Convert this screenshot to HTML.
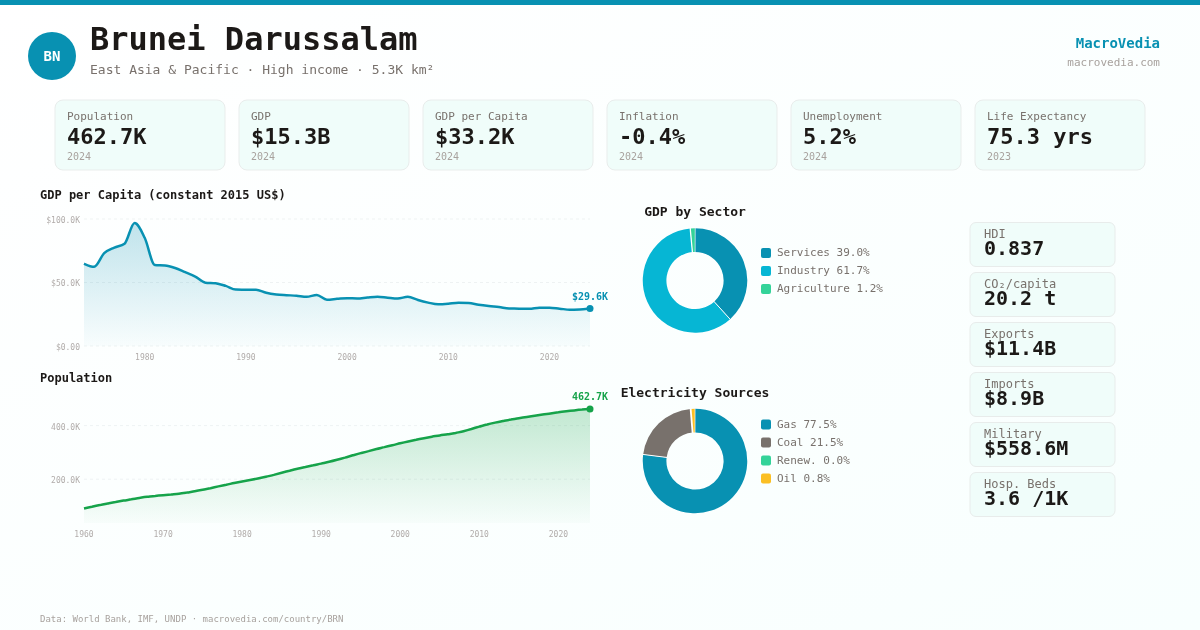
<!DOCTYPE html>
<html lang="en"><head><meta charset="utf-8"><title>Brunei Darussalam - MacroVedia</title>
<style>
html,body{margin:0;padding:0;background:#fff;}
body{width:1200px;height:630px;overflow:hidden;}
svg{display:block;}
text{font-family:"DejaVu Sans Mono", "Liberation Mono", monospace;}
.b{font-weight:bold;}
</style></head><body>
<svg width="1200" height="630" viewBox="0 0 1200 630">
<defs>
<linearGradient id="bg" x1="0" y1="0" x2="1" y2="1"><stop offset="0" stop-color="#ffffff"/><stop offset="1" stop-color="#f8fffe"/></linearGradient>
<linearGradient id="g1" x1="0" y1="0" x2="0" y2="1"><stop offset="0" stop-color="#0891b2" stop-opacity="0.25"/><stop offset="1" stop-color="#0891b2" stop-opacity="0.02"/></linearGradient>
<linearGradient id="g2" x1="0" y1="0" x2="0" y2="1"><stop offset="0" stop-color="#16a34a" stop-opacity="0.25"/><stop offset="1" stop-color="#16a34a" stop-opacity="0.02"/></linearGradient>
</defs>
<rect width="1200" height="630" fill="url(#bg)"/>
<rect width="1200" height="5" fill="#0891b2"/>
<circle cx="52" cy="56" r="24" fill="#0891b2"/>
<text x="52" y="61" text-anchor="middle" font-size="14" class="b" fill="#ffffff">BN</text>
<text x="90" y="50.2" font-size="32" class="b" fill="#1c1917">Brunei Darussalam</text>
<text x="90" y="74" font-size="13" fill="#78716c">East Asia &amp; Pacific · High income · 5.3K km²</text>
<text x="1160" y="48" text-anchor="end" font-size="14" class="b" fill="#0891b2">MacroVedia</text>
<text x="1160" y="66" text-anchor="end" font-size="11" fill="#a8a29e">macrovedia.com</text>

<rect x="55" y="100" width="170" height="70" rx="8" fill="#f0fdfa" stroke="#e9edec" stroke-width="1"/>
<text x="67" y="120" font-size="11" fill="#78716c">Population</text>
<text x="67" y="144" font-size="22" class="b" fill="#1c1917">462.7K</text>
<text x="67" y="160" font-size="10" fill="#a8a29e">2024</text>
<rect x="239" y="100" width="170" height="70" rx="8" fill="#f0fdfa" stroke="#e9edec" stroke-width="1"/>
<text x="251" y="120" font-size="11" fill="#78716c">GDP</text>
<text x="251" y="144" font-size="22" class="b" fill="#1c1917">$15.3B</text>
<text x="251" y="160" font-size="10" fill="#a8a29e">2024</text>
<rect x="423" y="100" width="170" height="70" rx="8" fill="#f0fdfa" stroke="#e9edec" stroke-width="1"/>
<text x="435" y="120" font-size="11" fill="#78716c">GDP per Capita</text>
<text x="435" y="144" font-size="22" class="b" fill="#1c1917">$33.2K</text>
<text x="435" y="160" font-size="10" fill="#a8a29e">2024</text>
<rect x="607" y="100" width="170" height="70" rx="8" fill="#f0fdfa" stroke="#e9edec" stroke-width="1"/>
<text x="619" y="120" font-size="11" fill="#78716c">Inflation</text>
<text x="619" y="144" font-size="22" class="b" fill="#1c1917">-0.4%</text>
<text x="619" y="160" font-size="10" fill="#a8a29e">2024</text>
<rect x="791" y="100" width="170" height="70" rx="8" fill="#f0fdfa" stroke="#e9edec" stroke-width="1"/>
<text x="803" y="120" font-size="11" fill="#78716c">Unemployment</text>
<text x="803" y="144" font-size="22" class="b" fill="#1c1917">5.2%</text>
<text x="803" y="160" font-size="10" fill="#a8a29e">2024</text>
<rect x="975" y="100" width="170" height="70" rx="8" fill="#f0fdfa" stroke="#e9edec" stroke-width="1"/>
<text x="987" y="120" font-size="11" fill="#78716c">Life Expectancy</text>
<text x="987" y="144" font-size="22" class="b" fill="#1c1917">75.3 yrs</text>
<text x="987" y="160" font-size="10" fill="#a8a29e">2023</text>
<text x="40" y="199" font-size="12" class="b" fill="#1c1917">GDP per Capita (constant 2015 US$)</text>
<line x1="84" y1="219" x2="590" y2="219" stroke="#e3e8ea" stroke-width="1" stroke-dasharray="3,3" opacity="0.55"/>
<text x="80" y="222.9" text-anchor="end" font-size="8" fill="#b1acaa">$100.0K</text>
<line x1="84" y1="282.5" x2="590" y2="282.5" stroke="#e3e8ea" stroke-width="1" stroke-dasharray="3,3" opacity="0.55"/>
<text x="80" y="286.4" text-anchor="end" font-size="8" fill="#b1acaa">$50.0K</text>
<line x1="84" y1="346" x2="590" y2="346" stroke="#e3e8ea" stroke-width="1" stroke-dasharray="3,3" opacity="0.55"/>
<text x="80" y="349.9" text-anchor="end" font-size="8" fill="#b1acaa">$0.00</text>
<path d="M84.0,263.7C87.4,265.2 90.7,266.8 94.1,266.8C97.5,266.8 100.9,256.4 104.2,253.2C107.6,250.0 111.0,249.2 114.4,247.6C117.7,246.0 121.1,246.3 124.5,243.7C127.9,241.1 131.2,223.0 134.6,223.0C138.0,223.0 141.3,230.8 144.7,237.8C148.1,244.8 151.5,264.7 154.8,265.0C158.2,265.3 161.6,265.2 165.0,265.5C168.3,265.8 171.7,266.9 175.1,268.0C178.5,269.1 181.8,270.8 185.2,272.2C188.6,273.6 191.9,274.9 195.3,276.7C198.7,278.4 202.1,282.3 205.4,282.7C208.8,283.1 212.2,282.9 215.6,283.3C218.9,283.7 222.3,284.9 225.7,285.9C229.1,286.9 232.4,289.4 235.8,289.5C239.2,289.6 242.5,289.7 245.9,289.7C249.3,289.7 252.7,289.7 256.0,289.7C259.4,289.7 262.8,292.0 266.2,292.8C269.5,293.6 272.9,294.1 276.3,294.5C279.7,294.9 283.0,295.0 286.4,295.2C289.8,295.4 293.1,295.4 296.5,295.7C299.9,296.0 303.3,296.8 306.6,296.8C310.0,296.8 313.4,295.0 316.8,295.0C320.1,295.0 323.5,299.7 326.9,299.7C330.3,299.7 333.6,299.1 337.0,298.8C340.4,298.6 343.7,298.2 347.1,298.2C350.5,298.2 353.9,298.5 357.2,298.5C360.6,298.5 364.0,297.8 367.4,297.5C370.7,297.2 374.1,296.7 377.5,296.7C380.9,296.7 384.2,297.4 387.6,297.7C391.0,298.0 394.3,298.5 397.7,298.5C401.1,298.5 404.5,296.8 407.8,296.8C411.2,296.8 414.6,299.0 418.0,300.0C421.3,301.0 424.7,301.9 428.1,302.6C431.5,303.3 434.8,304.3 438.2,304.3C441.6,304.3 444.9,304.0 448.3,303.7C451.7,303.4 455.1,302.7 458.4,302.7C461.8,302.7 465.2,302.8 468.6,303.0C471.9,303.2 475.3,304.2 478.7,304.7C482.1,305.2 485.4,305.6 488.8,306.0C492.2,306.4 495.5,306.6 498.9,307.0C502.3,307.4 505.7,308.4 509.0,308.5C512.4,308.6 515.8,308.6 519.2,308.7C522.5,308.8 525.9,308.8 529.3,308.8C532.7,308.8 536.0,307.7 539.4,307.7C542.8,307.7 546.1,307.7 549.5,307.7C552.9,307.7 556.3,308.4 559.6,308.7C563.0,309.0 566.4,309.7 569.8,309.7C573.1,309.7 576.5,309.6 579.9,309.5C583.3,309.4 586.6,308.9 590.0,308.5L590.0,346L84.0,346Z" fill="url(#g1)"/>
<path d="M84.0,263.7C87.4,265.2 90.7,266.8 94.1,266.8C97.5,266.8 100.9,256.4 104.2,253.2C107.6,250.0 111.0,249.2 114.4,247.6C117.7,246.0 121.1,246.3 124.5,243.7C127.9,241.1 131.2,223.0 134.6,223.0C138.0,223.0 141.3,230.8 144.7,237.8C148.1,244.8 151.5,264.7 154.8,265.0C158.2,265.3 161.6,265.2 165.0,265.5C168.3,265.8 171.7,266.9 175.1,268.0C178.5,269.1 181.8,270.8 185.2,272.2C188.6,273.6 191.9,274.9 195.3,276.7C198.7,278.4 202.1,282.3 205.4,282.7C208.8,283.1 212.2,282.9 215.6,283.3C218.9,283.7 222.3,284.9 225.7,285.9C229.1,286.9 232.4,289.4 235.8,289.5C239.2,289.6 242.5,289.7 245.9,289.7C249.3,289.7 252.7,289.7 256.0,289.7C259.4,289.7 262.8,292.0 266.2,292.8C269.5,293.6 272.9,294.1 276.3,294.5C279.7,294.9 283.0,295.0 286.4,295.2C289.8,295.4 293.1,295.4 296.5,295.7C299.9,296.0 303.3,296.8 306.6,296.8C310.0,296.8 313.4,295.0 316.8,295.0C320.1,295.0 323.5,299.7 326.9,299.7C330.3,299.7 333.6,299.1 337.0,298.8C340.4,298.6 343.7,298.2 347.1,298.2C350.5,298.2 353.9,298.5 357.2,298.5C360.6,298.5 364.0,297.8 367.4,297.5C370.7,297.2 374.1,296.7 377.5,296.7C380.9,296.7 384.2,297.4 387.6,297.7C391.0,298.0 394.3,298.5 397.7,298.5C401.1,298.5 404.5,296.8 407.8,296.8C411.2,296.8 414.6,299.0 418.0,300.0C421.3,301.0 424.7,301.9 428.1,302.6C431.5,303.3 434.8,304.3 438.2,304.3C441.6,304.3 444.9,304.0 448.3,303.7C451.7,303.4 455.1,302.7 458.4,302.7C461.8,302.7 465.2,302.8 468.6,303.0C471.9,303.2 475.3,304.2 478.7,304.7C482.1,305.2 485.4,305.6 488.8,306.0C492.2,306.4 495.5,306.6 498.9,307.0C502.3,307.4 505.7,308.4 509.0,308.5C512.4,308.6 515.8,308.6 519.2,308.7C522.5,308.8 525.9,308.8 529.3,308.8C532.7,308.8 536.0,307.7 539.4,307.7C542.8,307.7 546.1,307.7 549.5,307.7C552.9,307.7 556.3,308.4 559.6,308.7C563.0,309.0 566.4,309.7 569.8,309.7C573.1,309.7 576.5,309.6 579.9,309.5C583.3,309.4 586.6,308.9 590.0,308.5" fill="none" stroke="#0891b2" stroke-width="2.5" stroke-linejoin="round" stroke-linecap="butt"/>
<text x="144.7" y="359.6" text-anchor="middle" font-size="8" fill="#b1acaa">1980</text>
<text x="245.9" y="359.6" text-anchor="middle" font-size="8" fill="#b1acaa">1990</text>
<text x="347.1" y="359.6" text-anchor="middle" font-size="8" fill="#b1acaa">2000</text>
<text x="448.3" y="359.6" text-anchor="middle" font-size="8" fill="#b1acaa">2010</text>
<text x="549.5" y="359.6" text-anchor="middle" font-size="8" fill="#b1acaa">2020</text>
<circle cx="590" cy="308.5" r="3.5" fill="#0891b2"/>
<text x="590" y="299.5" text-anchor="middle" font-size="10" class="b" fill="#0891b2">$29.6K</text>
<text x="40" y="382" font-size="12" class="b" fill="#1c1917">Population</text>
<line x1="84" y1="425.6" x2="590" y2="425.6" stroke="#e3e8ea" stroke-width="1" stroke-dasharray="3,3" opacity="0.55"/>
<text x="80" y="429.5" text-anchor="end" font-size="8" fill="#b1acaa">400.0K</text>
<line x1="84" y1="479.2" x2="590" y2="479.2" stroke="#e3e8ea" stroke-width="1" stroke-dasharray="3,3" opacity="0.55"/>
<text x="80" y="483.09999999999997" text-anchor="end" font-size="8" fill="#b1acaa">200.0K</text>
<path d="M84.0,508.5C86.6,507.9 89.3,507.3 91.9,506.8C94.5,506.2 97.2,505.6 99.8,505.1C102.4,504.5 105.1,504.0 107.7,503.5C110.4,503.0 113.0,502.5 115.6,502.1C118.3,501.6 120.9,501.1 123.5,500.6C126.2,500.2 128.8,499.7 131.4,499.3C134.1,498.8 136.7,498.4 139.3,497.9C142.0,497.5 144.6,497.1 147.2,496.8C149.9,496.5 152.5,496.1 155.2,495.9C157.8,495.6 160.4,495.4 163.1,495.2C165.7,495.0 168.3,494.8 171.0,494.6C173.6,494.3 176.2,494.1 178.9,493.7C181.5,493.4 184.1,493.0 186.8,492.6C189.4,492.1 192.1,491.7 194.7,491.2C197.3,490.8 200.0,490.3 202.6,489.8C205.2,489.3 207.9,488.7 210.5,488.2C213.1,487.6 215.8,487.0 218.4,486.4C221.0,485.8 223.7,485.2 226.3,484.7C228.9,484.1 231.6,483.6 234.2,483.0C236.9,482.5 239.5,482.0 242.1,481.5C244.8,481.0 247.4,480.5 250.0,480.0C252.7,479.5 255.3,479.0 257.9,478.5C260.6,478.0 263.2,477.4 265.8,476.8C268.5,476.2 271.1,475.5 273.8,474.9C276.4,474.2 279.0,473.5 281.7,472.8C284.3,472.1 286.9,471.4 289.6,470.8C292.2,470.1 294.8,469.4 297.5,468.8C300.1,468.2 302.7,467.5 305.4,467.0C308.0,466.4 310.6,465.8 313.3,465.3C315.9,464.7 318.6,464.2 321.2,463.6C323.8,463.0 326.5,462.5 329.1,461.8C331.7,461.2 334.4,460.5 337.0,459.8C339.6,459.1 342.3,458.3 344.9,457.6C347.5,456.8 350.2,456.1 352.8,455.3C355.4,454.6 358.1,453.9 360.7,453.1C363.4,452.4 366.0,451.7 368.6,451.1C371.3,450.4 373.9,449.7 376.5,449.0C379.2,448.4 381.8,447.7 384.4,447.1C387.1,446.4 389.7,445.8 392.3,445.2C395.0,444.6 397.6,443.9 400.2,443.3C402.9,442.7 405.5,442.1 408.2,441.5C410.8,440.9 413.4,440.3 416.1,439.8C418.7,439.2 421.3,438.7 424.0,438.2C426.6,437.7 429.2,437.2 431.9,436.7C434.5,436.3 437.1,435.8 439.8,435.4C442.4,435.0 445.1,434.7 447.7,434.3C450.3,433.9 453.0,433.5 455.6,433.0C458.2,432.4 460.9,431.9 463.5,431.2C466.1,430.5 468.8,429.7 471.4,429.0C474.0,428.2 476.7,427.4 479.3,426.6C481.9,425.9 484.6,425.1 487.2,424.5C489.9,423.8 492.5,423.2 495.1,422.6C497.8,422.0 500.4,421.5 503.0,421.0C505.7,420.5 508.3,420.0 510.9,419.6C513.6,419.1 516.2,418.7 518.8,418.2C521.5,417.8 524.1,417.4 526.8,417.0C529.4,416.6 532.0,416.2 534.7,415.7C537.3,415.3 539.9,414.9 542.6,414.5C545.2,414.1 547.8,413.8 550.5,413.4C553.1,413.0 555.7,412.6 558.4,412.3C561.0,411.9 563.6,411.6 566.3,411.3C568.9,411.0 571.6,410.7 574.2,410.4C576.8,410.1 579.5,409.8 582.1,409.6C584.7,409.3 587.4,409.1 590.0,408.9L590.0,523L84.0,523Z" fill="url(#g2)"/>
<path d="M84.0,508.5C86.6,507.9 89.3,507.3 91.9,506.8C94.5,506.2 97.2,505.6 99.8,505.1C102.4,504.5 105.1,504.0 107.7,503.5C110.4,503.0 113.0,502.5 115.6,502.1C118.3,501.6 120.9,501.1 123.5,500.6C126.2,500.2 128.8,499.7 131.4,499.3C134.1,498.8 136.7,498.4 139.3,497.9C142.0,497.5 144.6,497.1 147.2,496.8C149.9,496.5 152.5,496.1 155.2,495.9C157.8,495.6 160.4,495.4 163.1,495.2C165.7,495.0 168.3,494.8 171.0,494.6C173.6,494.3 176.2,494.1 178.9,493.7C181.5,493.4 184.1,493.0 186.8,492.6C189.4,492.1 192.1,491.7 194.7,491.2C197.3,490.8 200.0,490.3 202.6,489.8C205.2,489.3 207.9,488.7 210.5,488.2C213.1,487.6 215.8,487.0 218.4,486.4C221.0,485.8 223.7,485.2 226.3,484.7C228.9,484.1 231.6,483.6 234.2,483.0C236.9,482.5 239.5,482.0 242.1,481.5C244.8,481.0 247.4,480.5 250.0,480.0C252.7,479.5 255.3,479.0 257.9,478.5C260.6,478.0 263.2,477.4 265.8,476.8C268.5,476.2 271.1,475.5 273.8,474.9C276.4,474.2 279.0,473.5 281.7,472.8C284.3,472.1 286.9,471.4 289.6,470.8C292.2,470.1 294.8,469.4 297.5,468.8C300.1,468.2 302.7,467.5 305.4,467.0C308.0,466.4 310.6,465.8 313.3,465.3C315.9,464.7 318.6,464.2 321.2,463.6C323.8,463.0 326.5,462.5 329.1,461.8C331.7,461.2 334.4,460.5 337.0,459.8C339.6,459.1 342.3,458.3 344.9,457.6C347.5,456.8 350.2,456.1 352.8,455.3C355.4,454.6 358.1,453.9 360.7,453.1C363.4,452.4 366.0,451.7 368.6,451.1C371.3,450.4 373.9,449.7 376.5,449.0C379.2,448.4 381.8,447.7 384.4,447.1C387.1,446.4 389.7,445.8 392.3,445.2C395.0,444.6 397.6,443.9 400.2,443.3C402.9,442.7 405.5,442.1 408.2,441.5C410.8,440.9 413.4,440.3 416.1,439.8C418.7,439.2 421.3,438.7 424.0,438.2C426.6,437.7 429.2,437.2 431.9,436.7C434.5,436.3 437.1,435.8 439.8,435.4C442.4,435.0 445.1,434.7 447.7,434.3C450.3,433.9 453.0,433.5 455.6,433.0C458.2,432.4 460.9,431.9 463.5,431.2C466.1,430.5 468.8,429.7 471.4,429.0C474.0,428.2 476.7,427.4 479.3,426.6C481.9,425.9 484.6,425.1 487.2,424.5C489.9,423.8 492.5,423.2 495.1,422.6C497.8,422.0 500.4,421.5 503.0,421.0C505.7,420.5 508.3,420.0 510.9,419.6C513.6,419.1 516.2,418.7 518.8,418.2C521.5,417.8 524.1,417.4 526.8,417.0C529.4,416.6 532.0,416.2 534.7,415.7C537.3,415.3 539.9,414.9 542.6,414.5C545.2,414.1 547.8,413.8 550.5,413.4C553.1,413.0 555.7,412.6 558.4,412.3C561.0,411.9 563.6,411.6 566.3,411.3C568.9,411.0 571.6,410.7 574.2,410.4C576.8,410.1 579.5,409.8 582.1,409.6C584.7,409.3 587.4,409.1 590.0,408.9" fill="none" stroke="#16a34a" stroke-width="2.5" stroke-linejoin="round" stroke-linecap="butt"/>
<text x="84.0" y="536.5" text-anchor="middle" font-size="8" fill="#b1acaa">1960</text>
<text x="163.1" y="536.5" text-anchor="middle" font-size="8" fill="#b1acaa">1970</text>
<text x="242.1" y="536.5" text-anchor="middle" font-size="8" fill="#b1acaa">1980</text>
<text x="321.2" y="536.5" text-anchor="middle" font-size="8" fill="#b1acaa">1990</text>
<text x="400.2" y="536.5" text-anchor="middle" font-size="8" fill="#b1acaa">2000</text>
<text x="479.3" y="536.5" text-anchor="middle" font-size="8" fill="#b1acaa">2010</text>
<text x="558.4" y="536.5" text-anchor="middle" font-size="8" fill="#b1acaa">2020</text>
<circle cx="590" cy="408.9" r="3.5" fill="#16a34a"/>
<text x="590" y="399.5" text-anchor="middle" font-size="10" class="b" fill="#16a34a">462.7K</text>
<text x="695" y="216" text-anchor="middle" font-size="13" class="b" fill="#1c1917">GDP by Sector</text>
<path d="M695.00,228.25A52.25,52.25 0 0 1 730.10,319.21L714.21,301.69A28.6,28.6 0 0 0 695.00,251.90Z" fill="#0891b2"/>
<path d="M730.10,319.21A52.25,52.25 0 1 1 690.22,228.47L692.38,252.02A28.6,28.6 0 1 0 714.21,301.69Z" fill="#06b6d4"/>
<path d="M690.22,228.47A52.25,52.25 0 0 1 695.00,228.25L695.00,251.90A28.6,28.6 0 0 0 692.38,252.02Z" fill="#34d399"/>
<line x1="713.81" y1="301.24" x2="730.50" y2="319.65" stroke="#ffffff" stroke-width="1" stroke-opacity="1"/>
<line x1="692.44" y1="252.62" x2="690.16" y2="227.87" stroke="#ffffff" stroke-width="1.25" stroke-opacity="1"/>
<line x1="695.15" y1="252.50" x2="695.28" y2="227.65" stroke="#ffffff" stroke-width="1" stroke-opacity="0.65"/>
<rect x="761" y="248.0" width="10" height="10" rx="2" fill="#0891b2"/>
<text x="777" y="256.2" font-size="11" fill="#78716c">Services 39.0%</text>
<rect x="761" y="266.0" width="10" height="10" rx="2" fill="#06b6d4"/>
<text x="777" y="274.2" font-size="11" fill="#78716c">Industry 61.7%</text>
<rect x="761" y="284.0" width="10" height="10" rx="2" fill="#34d399"/>
<text x="777" y="292.2" font-size="11" fill="#78716c">Agriculture 1.2%</text>
<text x="695" y="397" text-anchor="middle" font-size="13" class="b" fill="#1c1917">Electricity Sources</text>
<path d="M695.00,408.75A52.25,52.25 0 1 1 643.16,454.45L666.63,457.42A28.6,28.6 0 1 0 695.00,432.40Z" fill="#0891b2"/>
<path d="M643.16,454.45A52.25,52.25 0 0 1 690.63,408.93L692.61,432.50A28.6,28.6 0 0 0 666.63,457.42Z" fill="#78716c"/>
<path d="M690.63,408.93A52.25,52.25 0 0 1 695.00,408.75L695.00,432.40A28.6,28.6 0 0 0 692.61,432.50Z" fill="#fbbf24"/>
<line x1="667.22" y1="457.49" x2="642.57" y2="454.38" stroke="#ffffff" stroke-width="1" stroke-opacity="1"/>
<line x1="692.66" y1="433.10" x2="690.58" y2="408.34" stroke="#ffffff" stroke-width="1.8" stroke-opacity="1"/>
<line x1="695.05" y1="433.00" x2="695.09" y2="408.15" stroke="#ffffff" stroke-width="1" stroke-opacity="0.65"/>
<rect x="761" y="419.5" width="10" height="10" rx="2" fill="#0891b2"/>
<text x="777" y="427.7" font-size="11" fill="#78716c">Gas 77.5%</text>
<rect x="761" y="437.5" width="10" height="10" rx="2" fill="#78716c"/>
<text x="777" y="445.7" font-size="11" fill="#78716c">Coal 21.5%</text>
<rect x="761" y="455.5" width="10" height="10" rx="2" fill="#34d399"/>
<text x="777" y="463.7" font-size="11" fill="#78716c">Renew. 0.0%</text>
<rect x="761" y="473.5" width="10" height="10" rx="2" fill="#fbbf24"/>
<text x="777" y="481.7" font-size="11" fill="#78716c">Oil 0.8%</text>
<rect x="970" y="222.5" width="145" height="44" rx="6" fill="#f0fdfa" stroke="#e8eceb" stroke-width="1"/>
<text x="984" y="237.7" font-size="12" fill="#78716c">HDI</text>
<text x="984" y="255.0" font-size="20" class="b" fill="#1c1917">0.837</text>
<rect x="970" y="272.5" width="145" height="44" rx="6" fill="#f0fdfa" stroke="#e8eceb" stroke-width="1"/>
<text x="984" y="287.7" font-size="12" fill="#78716c">CO₂/capita</text>
<text x="984" y="305.0" font-size="20" class="b" fill="#1c1917">20.2 t</text>
<rect x="970" y="322.5" width="145" height="44" rx="6" fill="#f0fdfa" stroke="#e8eceb" stroke-width="1"/>
<text x="984" y="337.7" font-size="12" fill="#78716c">Exports</text>
<text x="984" y="355.0" font-size="20" class="b" fill="#1c1917">$11.4B</text>
<rect x="970" y="372.5" width="145" height="44" rx="6" fill="#f0fdfa" stroke="#e8eceb" stroke-width="1"/>
<text x="984" y="387.7" font-size="12" fill="#78716c">Imports</text>
<text x="984" y="405.0" font-size="20" class="b" fill="#1c1917">$8.9B</text>
<rect x="970" y="422.5" width="145" height="44" rx="6" fill="#f0fdfa" stroke="#e8eceb" stroke-width="1"/>
<text x="984" y="437.7" font-size="12" fill="#78716c">Military</text>
<text x="984" y="455.0" font-size="20" class="b" fill="#1c1917">$558.6M</text>
<rect x="970" y="472.5" width="145" height="44" rx="6" fill="#f0fdfa" stroke="#e8eceb" stroke-width="1"/>
<text x="984" y="487.7" font-size="12" fill="#78716c">Hosp. Beds</text>
<text x="984" y="505.0" font-size="20" class="b" fill="#1c1917">3.6 /1K</text>
<text x="40" y="622" font-size="9" fill="#a8a29e">Data: World Bank, IMF, UNDP · macrovedia.com/country/BRN</text>
</svg></body></html>
